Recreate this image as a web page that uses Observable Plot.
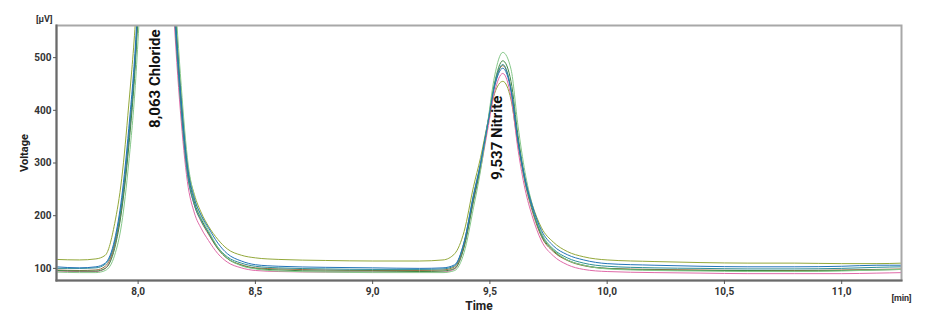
<!DOCTYPE html>
<html>
<head>
<meta charset="utf-8">
<script src="https://cdn.jsdelivr.net/npm/d3@7"></script>
<script src="https://cdn.jsdelivr.net/npm/@observablehq/plot@0.6"></script>
<style>
  html, body { margin: 0; padding: 0; background: #fff; }
  #chart { width: 950px; height: 312px; }
</style>
</head>
<body>
<div id="chart"></div>
<script>
// Time points (min)
const times = [7.65, 7.75, 7.82, 7.86, 7.90, 7.93, 7.96, 7.99, 8.02, 8.07, 8.12, 8.15, 8.18, 8.21, 8.24, 8.27, 8.30, 8.34, 8.38, 8.44, 8.5, 8.6, 8.8, 9.0, 9.2, 9.3, 9.35, 9.39, 9.43, 9.46, 9.49, 9.52, 9.555, 9.59, 9.62, 9.65, 9.68, 9.72, 9.77, 9.83, 9.9, 10.0, 10.2, 10.4, 10.6, 10.8, 11.0, 11.15, 11.26];

// Voltage (µV) per run
const run1 = [117, 116, 118, 125, 185, 270, 410, 580, 850, 1400, 950, 660, 450, 300, 240, 205, 180, 155, 137, 125, 120, 117, 115, 114, 114, 116, 128, 170, 255, 310, 375, 432, 455, 420, 335, 270, 222, 177, 150, 132, 122, 116, 113, 111, 110, 110, 109, 109, 110];
const run2 = [95, 94, 94, 100, 142, 215, 340, 510, 790, 1400, 880, 600, 400, 265, 205, 175, 153, 128, 112, 101, 96, 94, 93, 93, 93, 93, 99, 142, 228, 288, 362, 435, 470, 425, 325, 250, 200, 152, 124, 107, 98, 94, 92, 91, 90, 90, 90, 91, 92];
const run3 = [97, 96, 97, 104, 146, 220, 345, 515, 795, 1400, 905, 625, 425, 283, 220, 188, 165, 137, 119, 107, 101, 99, 97, 96, 96, 97, 103, 146, 234, 296, 372, 447, 485, 440, 340, 262, 210, 160, 132, 115, 105, 100, 98, 97, 96, 96, 97, 98, 99];
const run4 = [96, 95, 95, 100, 138, 210, 330, 500, 780, 1400, 930, 650, 440, 292, 226, 193, 168, 138, 119, 106, 100, 97, 95, 95, 94, 95, 100, 140, 228, 292, 372, 452, 494, 455, 352, 270, 215, 163, 134, 116, 106, 100, 97, 96, 96, 95, 96, 97, 98];
const run5 = [100, 100, 101, 108, 150, 225, 350, 520, 800, 1400, 900, 620, 420, 280, 220, 190, 168, 140, 122, 110, 104, 101, 99, 98, 98, 99, 105, 150, 240, 300, 375, 450, 487, 440, 340, 265, 215, 165, 137, 120, 110, 104, 101, 100, 99, 99, 100, 102, 103];
const run6 = [93, 92, 92, 96, 125, 185, 300, 460, 720, 1400, 960, 680, 470, 310, 235, 198, 172, 140, 120, 105, 99, 95, 93, 92, 92, 92, 96, 130, 215, 285, 375, 465, 510, 478, 370, 282, 222, 168, 136, 116, 106, 99, 96, 95, 94, 94, 95, 97, 98];
const run7 = [103, 101, 103, 110, 155, 235, 365, 535, 820, 1400, 920, 640, 440, 295, 232, 200, 177, 148, 128, 114, 107, 104, 102, 101, 100, 101, 107, 150, 238, 298, 372, 445, 480, 437, 342, 270, 220, 172, 143, 126, 116, 109, 106, 104, 103, 103, 104, 106, 106];

const runNames = ["Run 1", "Run 2", "Run 3", "Run 4", "Run 5", "Run 6", "Run 7"];
const runValues = [run1, run2, run3, run4, run5, run6, run7];
const runColors = ["#93a83a", "#e06aa8", "#9a7040", "#3f8a45", "#2f8f98", "#86c88a", "#2374b8"];

// Tick values
const xTicks = [8.0, 8.5, 9.0, 9.5, 10.0, 10.5, 11.0];
const yTicks = [100, 200, 300, 400, 500];

// Peak annotations
const peakLabels = ["8,063 Chloride", "9,537 Nitrite"];
const peakTimes = [8.074, 9.531];
const peakValues = [460, 348];

const rows = runNames.flatMap((name, k) => times.map((t, i) => ({run: name, t, v: runValues[k][i]})));
const peaks = peakLabels.map((label, i) => ({label, t: peakTimes[i], v: peakValues[i]}));

const font = "Roboto, 'Liberation Sans', sans-serif";

const chart = Plot.plot({
  width: 950,
  height: 312,
  marginLeft: 56,
  marginRight: 49,
  marginTop: 25,
  marginBottom: 32,
  style: {fontFamily: font, fontSize: "10px", background: "#fff", color: "#333"},
  x: {domain: [7.652, 11.255], label: null},
  y: {domain: [77, 561], label: null},
  color: {type: "ordinal", domain: runNames, range: runColors},
  marks: [
    Plot.line(rows, {x: "t", y: "v", z: "run", stroke: "run", strokeWidth: 1, curve: "monotone-x", clip: true}),
    Plot.frame({stroke: "#a8a8a8", strokeWidth: 2}),
    Plot.frame({anchor: "left", stroke: "#6a6a6a", strokeWidth: 2}),
    Plot.frame({anchor: "bottom", stroke: "#6a6a6a", strokeWidth: 2}),
    Plot.axisX({ticks: xTicks, tickSize: 4, tickPadding: 3, tickFormat: d => d.toFixed(1).replace(".", ","), fontWeight: 700, fill: "#333", stroke: "#555", label: null}),
    Plot.axisY({ticks: yTicks, tickSize: 3, tickPadding: 2, fontWeight: 700, fill: "#333", stroke: "#555", label: null}),
    Plot.text(peaks, {x: "t", y: "v", text: "label", rotate: -90, fontSize: 15, fontWeight: 700, fill: "#111", textAnchor: "middle"}),
    Plot.text(["[µV]"], {frameAnchor: "top-left", dx: -4, dy: -4, textAnchor: "end", lineAnchor: "bottom", fontSize: 9, fontWeight: 700, fill: "#333"}),
    Plot.text(["Voltage"], {frameAnchor: "left", dx: -32, rotate: -90, textAnchor: "middle", fontSize: 11, fontWeight: 700, fill: "#222"}),
    Plot.text(["Time"], {frameAnchor: "bottom", dy: 29, textAnchor: "middle", fontSize: 12, fontWeight: 700, fill: "#222"}),
    Plot.text(["[min]"], {frameAnchor: "bottom-right", dy: 20, textAnchor: "middle", fontSize: 9, fontWeight: 700, fill: "#333"})
  ]
});
document.getElementById("chart").appendChild(chart);
</script>
</body>
</html>
